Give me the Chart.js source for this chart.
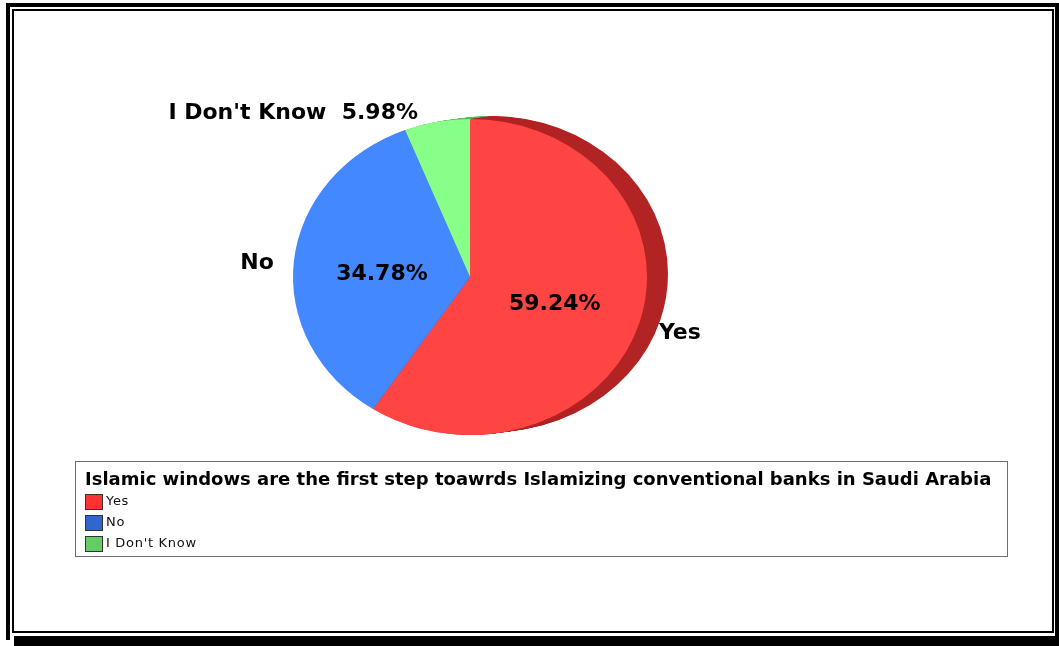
<!DOCTYPE html>
<html>
<head>
<meta charset="utf-8">
<script src="https://cdn.jsdelivr.net/npm/chart.js@4.4.1/dist/chart.umd.min.js"></script>
<style>
  body { margin: 0; background: #fff; width: 1059px; height: 646px; overflow: hidden; position: relative; font-family: "DejaVu Sans", Verdana, sans-serif; }
  canvas { position: absolute; left: 0; top: 0; }
  .f { position: absolute; background: #000; }
  #legend { position: absolute; left: 75px; top: 461px; width: 931px; height: 94px; border: 1px solid #6d6d6d; }
  #legend .title { position: absolute; left: 9px; top: 6px; font-weight: bold; font-size: 18px; white-space: nowrap; color: #000; }
  #legend .item { position: absolute; left: 9px; height: 16px; font-size: 13px; letter-spacing: 0.7px; white-space: nowrap; color: #111; }
  #legend .sw { display: inline-block; width: 16px; height: 14px; border: 1px solid #333; vertical-align: middle; margin-right: 3px; }
</style>
</head>
<body>
<canvas id="myChart" width="1059" height="646"></canvas>
<div class="f" style="left:6px;top:3px;width:1053px;height:4px"></div>
<div class="f" style="left:6px;top:3px;width:4px;height:637px"></div>
<div class="f" style="left:1055px;top:3px;width:4px;height:643px"></div>
<div class="f" style="left:14px;top:636px;width:1045px;height:10px"></div>
<div style="position:absolute;left:12px;top:9px;width:1038px;height:620px;border:2px solid #000"></div>
<div id="legend"></div>
<script>
// datos de la grafica
const categories = ['Yes', 'No', "I Don't Know"];
const shares = [59.24, 34.78, 5.98];
const legendTitle = 'Islamic windows are the first step toawrds Islamizing conventional banks in Saudi Arabia';

const faceColors = ['#ff4444', '#4488ff', '#88ff88'];
const rimColors = ['#b22424', '#2d5fb5', '#5cb85c'];
const legendColors = ['#ff3333', '#3366cc', '#66cc66'];

// forma "3D": elipse + borde oscuro desplazado
const SQUASH = 158 / 177;
const RIM_DX = 21, RIM_DY = -3, RIM_STEPS = 21;
const LABEL_FONT = 'bold 22px "DejaVu Sans", Verdana, sans-serif';
const labelNudge = [[-1, 6], [1, 4], [-15, 10]];

const pie3d = {
    id: 'pie3d',
    beforeDatasetsDraw(chart) {
        const ctx = chart.ctx;
        const arcs = chart.getDatasetMeta(0).data;
        const cx = arcs[0].x, cy = arcs[0].y;
        for (let s = RIM_STEPS; s >= 1; s--) {
            ctx.save();
            ctx.translate(RIM_DX * s / RIM_STEPS, RIM_DY * s / RIM_STEPS);
            ctx.translate(cx, cy); ctx.scale(1, SQUASH); ctx.translate(-cx, -cy);
            arcs.forEach((arc, i) => {
                const keep = arc.options;
                arc.options = Object.assign({}, keep, { backgroundColor: rimColors[i] });
                arc.draw(ctx);
                arc.options = keep;
            });
            ctx.restore();
        }
        ctx.save();
        ctx.translate(cx, cy); ctx.scale(1, SQUASH); ctx.translate(-cx, -cy);
    },
    afterDatasetsDraw(chart) {
        const ctx = chart.ctx;
        ctx.restore();
        const arcs = chart.getDatasetMeta(0).data;
        ctx.save();
        ctx.font = LABEL_FONT;
        ctx.fillStyle = '#000';
        ctx.textBaseline = 'middle';
        arcs.forEach((arc, i) => {
            const mid = (arc.startAngle + arc.endAngle) / 2;
            const r = arc.outerRadius;
            const c = Math.cos(mid), sn = Math.sin(mid);
            const pct = shares[i].toFixed(2) + '%';
            let text = categories[i];
            if (shares[i] >= 10) {
                ctx.textAlign = 'center';
                ctx.fillText(pct, arc.x + c * r * 0.5, arc.y + sn * r * 0.5 * SQUASH + 5);
            } else {
                text = text + '  ' + pct;
            }
            ctx.textAlign = c >= 0 ? 'left' : 'right';
            ctx.fillText(text, arc.x + c * r * 1.12 + labelNudge[i][0], arc.y + sn * r * 1.12 * SQUASH + labelNudge[i][1]);
        });
        ctx.restore();
    }
};

const ctx = document.getElementById('myChart');
new Chart(ctx, {
    type: 'pie',
    data: {
        labels: categories,
        datasets: [{
            data: shares,
            backgroundColor: faceColors,
            borderWidth: 0,
            clip: false
        }]
    },
    options: {
        responsive: false,
        animation: false,
        events: [],
        layout: { padding: { left: 293, right: 412, top: 100, bottom: 192 } },
        plugins: { legend: { display: false }, tooltip: { enabled: false } }
    },
    plugins: [pie3d]
});

// leyenda en html
const legend = document.getElementById('legend');
legend.innerHTML = `<div class="title">${legendTitle}</div>`;
categories.forEach((label, index) => {
    legend.innerHTML += `
        <div class="item" style="top:${31 + index * 21}px">
            <span class="sw" style="background:${legendColors[index]}"></span>${label}
        </div>`;
});
</script>
</body>
</html>
